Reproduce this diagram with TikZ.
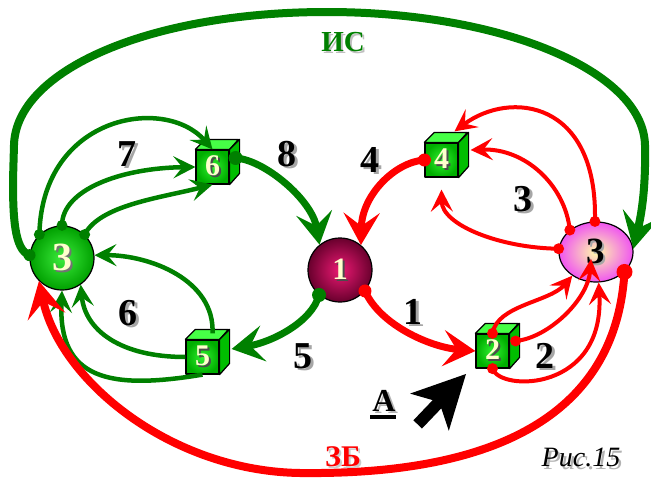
\documentclass[tikz,border=0pt]{standalone}
\usepackage{fontspec}
\setmainfont{Liberation Serif}
\usetikzlibrary{arrows.meta,shapes.geometric,calc}

\definecolor{dgreen}{RGB}{0,128,0}
\definecolor{lred}{RGB}{255,0,0}
\definecolor{cream}{RGB}{255,255,205}
\definecolor{cubetop}{RGB}{70,255,70}
\definecolor{cubeside}{RGB}{0,190,0}

% text with a soft drop shadow: [shadow colour]{text}
\newcommand\shd[2][black!35]{\leavevmode\rlap{\kern2.5pt\raisebox{-2.5pt}{\textcolor{#1}{#2}}}#2}
% shadow colour, text colour, text
\newcommand\shdc[3]{\leavevmode\rlap{\kern2pt\raisebox{-2pt}{\textcolor{#1}{#3}}}\textcolor{#2}{#3}}
\newcommand\fs[1]{\fontsize{#1}{#1}\selectfont}

\tikzset{
  edge/.style={draw=black, line width=1.2pt, line join=round},
  cubefront/.style={edge, minimum width=33pt, minimum height=34pt, inner sep=0pt,
    inner color={rgb,255:red,50;green,240;blue,50}, outer color={rgb,255:red,0;green,175;blue,0}},
  lbl/.style={inner sep=0pt, font={\fs{38}\bfseries}},
  thintip/.style={-{Stealth[length=22pt,width=22pt,inset=9pt]}},
  thicktip/.style={-{Stealth[length=32pt,width=36pt,inset=13pt]}},
  bigtip/.style={-{Stealth[length=36pt,width=38pt,inset=15pt]}},
  gthin/.style={draw=dgreen, line width=4.5pt, thintip},
  gthick/.style={draw=dgreen, line width=7pt, thicktip},
  gbig/.style={draw=dgreen, line width=8pt, bigtip},
  rthin/.style={draw=lred, line width=4pt, thintip},
  rthick/.style={draw=lred, line width=7pt, thicktip},
  rbig/.style={draw=lred, line width=8pt, bigtip},
}

% cube: name, x, y, digit
\newcommand\cubebox[4]{%
  \node[cubefront] (#1) at (#2,#3) {\fs{30}\bfseries\shdc{black!70}{cream}{#4}};
  \draw[edge, fill=cubetop] (#1.north west) -- ++(10,-10) -- ++(33,0) -- (#1.north east) -- cycle;
  \draw[edge, fill=cubeside] (#1.north east) -- ++(10,-10) -- ++(0,34) -- (#1.south east) -- cycle;
}

\begin{document}
\begin{tikzpicture}[x=1pt, y=-1pt]
\useasboundingbox (0,0) rectangle (651,479);

% ---- nodes ----
\node[circle, edge, minimum size=64pt, inner sep=0pt,
  inner color={rgb,255:red,60;green,235;blue,60}, outer color={rgb,255:red,0;green,160;blue,0}]
  (b3) at (62,258) {\fs{40}\bfseries\shdc{black!55}{cream}{3}};
\node[circle, edge, minimum size=64pt, inner sep=0pt,
  inner color={rgb,255:red,235;green,25;blue,115}, outer color={rgb,255:red,105;green,0;blue,45}]
  (b1) at (340,270) {\fs{31}\bfseries\shdc{black!70}{cream}{1}};
\node[ellipse, edge, minimum width=74pt, minimum height=60pt, inner sep=0pt,
  inner color={rgb,255:red,255;green,250;blue,170}, outer color={rgb,255:red,240;green,85;blue,240}]
  (e3) at (596,252) {\fs{37}\bfseries\shdc{black!35}{black}{3}};

\cubebox{c6}{212.5}{167}{6}
\cubebox{c4}{441.5}{160}{4}
\cubebox{c2}{492.5}{351}{2}
\cubebox{c5}{202.5}{357}{5}

% ---- green connectors ----
\draw[gbig] (b3.175) .. controls (14,250) and (13,215) .. (13,180)
  -- (14,145) .. controls (16,70) and (150,12) .. (327,12)
  .. controls (500,12) and (643,70) .. (645,145)
  .. controls (646,195) and (640,220) .. (e3.5);
\draw[gthin] (b3.134) .. controls (42,115) and (165,95) .. (c6.north);
\draw[gthin] (b3.90) .. controls (62,190) and (120,168) .. (c6.west);
\draw[gthin] (b3.46) .. controls (100,205) and (160,198) .. (c6.south);
\draw[gthick] ($(c6.east)+(6,-9)$) .. controls (265,160) and (312,200) .. (b1.129);
\draw[gthick] (b1.-130) .. controls (312,322) and (272,342) .. ($(c5.east)+(12,-8)$);
\draw[gthin] ($(c5.north)+(10,-6)$) .. controls (215,280) and (150,255) .. (b3.5);
\draw[gthin] (c5.west) .. controls (120,357) and (85,330) .. (b3.-55);
\draw[gthin] (c5.south) .. controls (110,390) and (58,380) .. (b3.-90);

% ---- red connectors ----
\draw[rbig] (e3.-35) .. controls (615,430) and (470,475) .. (300,473)
  .. controls (170,471) and (60,380) .. (b3.-135);
\draw[rthick] (b1.-40) .. controls (380,325) and (430,347) .. (c2.west);
\draw[rthick] (c4.west) .. controls (395,162) and (362,195) .. (b1.50);
\draw[rthin] (e3.175) .. controls (500,248) and (442,225) .. ($(c4.south)+(0,12)$);
\draw[rthin] (e3.140) .. controls (565,185) and (525,148) .. ($(c4.east)+(12,-10)$);
\draw[rthin] (e3.92) .. controls (598,100) and (510,90) .. ($(c4.north)+(13,-11)$);
\draw[rthin] (c2.north) .. controls (497,305) and (550,302) .. (e3.-135);
\draw[rthin] ($(c2.east)+(6,-10)$) .. controls (548,338) and (588,300) .. ($(e3.center)+(-5,7)$);
\draw[rthin] (c2.south) .. controls (500,392) and (605,392) .. (e3.-85);

% ---- start dots ----
\fill[dgreen] (b3.175) circle (6pt) (b3.134) circle (5.5pt) (b3.90) circle (5.5pt)
  (b3.46) circle (5.5pt) ($(c6.east)+(6,-9)$) circle (7pt) (b1.-130) circle (7pt);
\fill[lred] (e3.-35) circle (8pt) (b1.-40) circle (6.5pt) (c4.west) circle (6.5pt)
  (e3.175) circle (5.5pt) (e3.140) circle (5.5pt) (e3.92) circle (5.5pt)
  (c2.north) circle (5.5pt) ($(c2.east)+(6,-10)$) circle (5.5pt) (c2.south) circle (5.5pt);

% ---- labels ----
\node[lbl] (n7) at (127,155) {\shd{7}};
\node[lbl] (n8) at (287,155) {\shd{8}};
\node[lbl] (n6) at (128,314) {\shd{6}};
\node[lbl] (n5) at (303,357) {\shd{5}};
\node[lbl] (n4) at (370,161) {\shd{4}};
\node[lbl] (n3) at (523,200) {\shd{3}};
\node[lbl] (n1) at (413,313) {\shd{1}};
\node[lbl] (n2) at (545,357) {\shd{2}};

\node[inner sep=0pt, font={\fs{29}\bfseries}] (is) at (343,43) {\shdc{black!25}{dgreen}{ИС}};
\node[inner sep=0pt, font={\fs{30}\bfseries}] (zb) at (343,458) {\shdc{black!20}{lred}{ЗБ}};
\node[inner sep=0pt, font={\fs{28}\itshape}] (fig) at (581,459) {\shd[black!30]{Рис.15}};

\node[inner sep=0pt, font={\fs{32}\bfseries}] (A) at (384,402) {\shd[black!30]{А}};
\draw[line width=4pt] ($(A.base west)+(-2,6)$) -- ($(A.base east)+(0,6)$);

% block arrow pointing at cube 2
\fill[black] (466,374) -- (448.8,430.8) -- (441.3,408.3) -- (422,428.5)
  -- (413.4,420.3) -- (432.7,400.1) -- (410,393.6) -- cycle;
\end{tikzpicture}
\end{document}
